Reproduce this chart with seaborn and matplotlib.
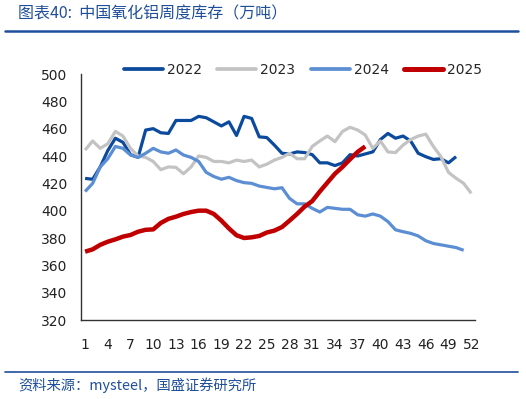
import matplotlib
matplotlib.use("Agg")
import matplotlib.pyplot as plt
import seaborn as sns
import pandas as pd
import numpy as np
from matplotlib.lines import Line2D

weeks = list(range(1, 53))
tick_weeks = list(range(1, 53, 3))

y2022 = [423.6, 423, 432, 444, 453, 450, 441, 439, 459, 460, 457, 456.5, 466, 466, 466,
         469, 468, 465, 462, 465, 455, 469, 467.5, 454, 453.5, 448, 442, 441.5, 443, 442.5,
         441, 435, 435, 433, 435, 441, 440, 441.5, 443, 452, 456.5, 453, 454.6, 451, 442,
         439.5, 437.5, 438, 435, 439.5]
y2023 = [444.4, 451, 445.6, 449, 458, 454.6, 445.6, 440, 439, 436, 430, 432, 431.7, 427, 432,
         440, 439, 436, 436, 435, 437, 436, 437, 432, 434, 437, 439, 442, 438, 438,
         447, 451, 454.6, 450.5, 458, 461, 459, 455.4, 445.6, 451, 443, 442.5, 448, 452, 454.6,
         456, 447, 439.5, 428, 423.7, 420, 412.7]
y2024 = [414, 420, 432, 438, 447, 445.6, 440.7, 439, 442, 445.6, 443, 442, 444.4, 440.7, 439,
         436, 428, 425, 423, 424.4, 422, 420.5, 420, 418, 417, 416, 416.8, 409, 405, 405,
         401.7, 399, 402.4, 401.7, 401, 401, 397, 396, 397.6, 396, 392, 386, 384.6, 383.4, 381.5,
         378, 376, 375, 374, 373, 371]
y2025 = [370, 371.7, 375, 377.3, 379, 381, 382.2, 384.6, 386, 386.3, 391, 394, 395.6, 397.6, 399,
         400, 400, 397.6, 392.7, 387, 382, 380, 380.5, 381.5, 384, 385.4, 388, 392.7, 397.6, 403,
         407, 414, 420.5, 427, 432, 437.6, 443, 447]

series = {"2022": y2022, "2023": y2023, "2024": y2024, "2025": y2025}
colors = {"2022": "#0B4A9C", "2023": "#C3C3C3", "2024": "#5B8ED2", "2025": "#C00000"}
widths = {"2022": 2.3, "2023": 2.3, "2024": 2.3, "2025": 3.2}

rows = []
for k, v in series.items():
    for i, val in enumerate(v):
        rows.append({"week": weeks[i], "value": val, "year": k})
df = pd.DataFrame(rows)

sns.set_style("white")
plt.rcParams['font.family'] = ['DejaVu Sans']

fig = plt.figure(figsize=(5.26, 3.99), dpi=100)
ax = fig.add_axes([81.3 / 526, 1 - 320 / 399, (475 - 81.3) / 526, (320 - 74) / 399])

for k in series:
    sns.lineplot(data=df[df.year == k], x="week", y="value", color=colors[k],
                 linewidth=widths[k], ax=ax, legend=False, solid_capstyle="butt")

ax.set_xlim(0.5, 52.5)
ax.set_ylim(320, 500)
ax.set_yticks(np.arange(320, 501, 20))
ax.set_xticks(tick_weeks)
ax.set_xticklabels([str(w) for w in tick_weeks])
ax.set_xticks(np.arange(3.5, 52, 3), minor=True)
ax.set_xlabel("")
ax.set_ylabel("")
for s in ["top", "right"]:
    ax.spines[s].set_visible(False)
for s in ["left", "bottom"]:
    ax.spines[s].set_color("#333333")
    ax.spines[s].set_linewidth(1.0)
ax.tick_params(axis="x", which="major", length=0, pad=13, labelsize=10, labelcolor="#222222")
ax.tick_params(axis="x", which="minor", direction="in", length=4, width=1, color="#333333")
ax.tick_params(axis="y", direction="in", length=4, width=1, color="#333333", pad=10,
               labelsize=10, labelcolor="#222222")
ax.grid(False)

handles = [Line2D([0], [0], color=colors[k], linewidth=widths[k] + 0.4) for k in series]
fig.legend(handles, list(series.keys()), loc="center",
           bbox_to_anchor=(303 / 526, 1 - 70 / 399), ncol=4, frameon=False,
           fontsize=10, handlelength=2.8, handletextpad=0.3, columnspacing=1.1,
           borderaxespad=0, borderpad=0)

blue = "#1F4E9A"
cjk = ['Noto Sans CJK SC', 'DejaVu Sans']
fig.text(18 / 526, 1 - 14 / 399, "图表40:  中国氧化铝周度库存（万吨）", family=cjk,
         fontsize=11.5, color=blue, va="center", ha="left")
fig.add_artist(Line2D([5 / 526, 518 / 526], [1 - 31 / 399, 1 - 31 / 399], color=blue,
                      linewidth=1.8, transform=fig.transFigure))
fig.add_artist(Line2D([5 / 526, 518 / 526], [1 - 372 / 399, 1 - 372 / 399], color=blue,
                      linewidth=1.2, transform=fig.transFigure))
fig.text(18 / 526, 1 - 385 / 399, "资料来源：mysteel，国盛证券研究所", family=cjk,
         fontsize=10.3, color=blue, va="center", ha="left")

fig.savefig("out.png", dpi=100)
